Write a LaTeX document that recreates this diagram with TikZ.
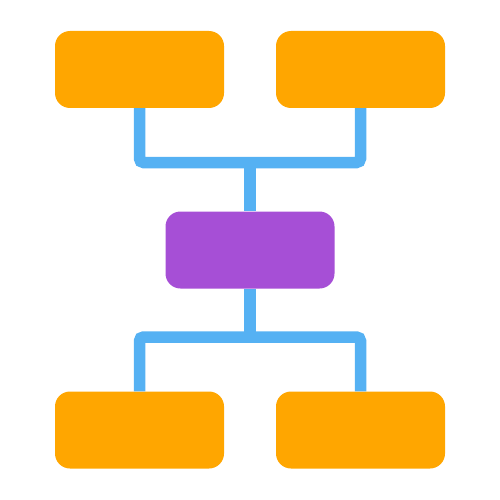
\documentclass[tikz,border=0pt]{standalone}
\definecolor{boxorange}{HTML}{FFA600}
\definecolor{boxpurple}{HTML}{A64FD6}
\definecolor{linkblue}{HTML}{55B1F3}
\begin{document}
\begin{tikzpicture}[x=1pt,y=-1pt,
  box/.style={rounded corners=15pt, minimum width=169pt, minimum height=77pt, inner sep=0pt, draw=none},
  link/.style={draw=linkblue, line width=11.5pt, rounded corners=4pt}]
\useasboundingbox (0,0) rectangle (500,500);
\node[box, fill=boxorange] (tl) at (139.5,69.5) {};
\node[box, fill=boxorange] (tr) at (360.5,69.5) {};
\node[box, fill=boxpurple] (mid) at (250,250) {};
\node[box, fill=boxorange] (bl) at (139.5,430) {};
\node[box, fill=boxorange] (br) at (360.5,430) {};
\coordinate (jt) at (250,162.5);
\coordinate (jb) at (250,337);
\draw[link] (tl.south) |- (jt) -| (tr.south);
\draw[link] (jt) -- (mid.north);
\draw[link] (bl.north) |- (jb) -| (br.north);
\draw[link] (jb) -- (mid.south);
\end{tikzpicture}
\end{document}
